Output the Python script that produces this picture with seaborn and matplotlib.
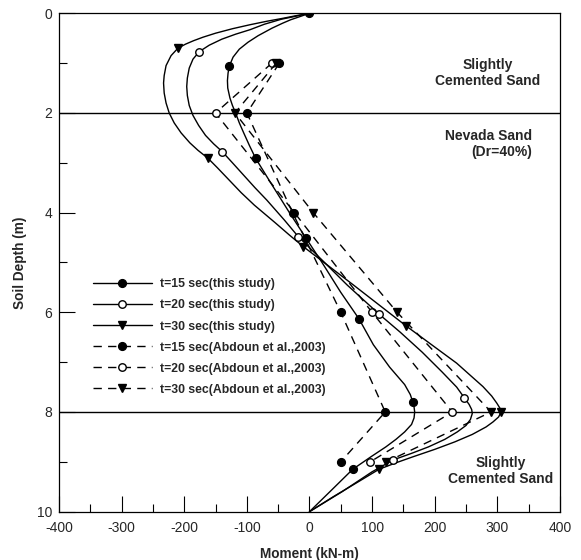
import matplotlib
matplotlib.use("Agg")
import matplotlib.pyplot as plt
from matplotlib.lines import Line2D
from matplotlib.ticker import MultipleLocator
from matplotlib import font_manager
import seaborn as sns

# ---- bending moment profiles (kN-m) vs. soil depth (m) ----
# this study: computed profiles, markers on selected depths
t15_depth = [0, 0.07, 0.13, 0.2, 0.3, 0.45, 0.58, 0.72, 0.88, 1.06, 1.2, 1.35, 1.5,
             1.7, 1.85, 2.0, 2.2, 2.4, 2.65, 2.91, 3.4, 4.0, 4.51, 5.0, 5.6, 6.13,
             6.65, 7.1, 7.45, 7.65, 7.8, 7.9, 8.0, 8.12, 8.25, 8.4, 8.55, 8.7, 8.9,
             9.15, 9.57, 10]
t15_moment = [0, -16, -30, -43, -60, -82, -98, -112, -122, -128, -130, -131, -130.5,
              -127, -123, -118, -112, -105, -96, -86, -62, -32, -5.6, 20, 50, 79,
              102, 128, 152, 161, 165, 167, 168, 167, 163, 152, 138, 122, 98,
              69, 35, 0]
t15_marks = [0, 9, 19, 22, 25, 30, 39]

t20_depth = [0, 0.06, 0.12, 0.22, 0.33, 0.42, 0.52, 0.64, 0.77, 0.92, 1.1, 1.3, 1.47,
             1.65, 1.85, 2.05, 2.25, 2.45, 2.62, 2.78, 3.0, 3.25, 3.5, 3.75, 4.15,
             4.48, 4.95, 5.45, 6.04, 6.4, 6.8, 7.2, 7.5, 7.71, 7.85, 7.95, 8.03,
             8.15, 8.27, 8.4, 8.55, 8.7, 8.83, 8.96, 9.2, 9.6, 10]
t20_moment = [0, -22, -45, -72, -95, -118, -140, -160, -176, -186, -192, -195, -196,
              -195, -192, -186, -177, -166, -153, -139, -123, -105, -87, -68, -40,
              -18, 20, 60, 111.5, 145, 180, 212, 235, 247, 255, 259, 260,
              257, 250, 236, 216, 190, 163, 134, 100, 52, 0]
t20_marks = [8, 19, 25, 28, 33, 43]

t30_depth = [0, 0.05, 0.1, 0.16, 0.23, 0.31, 0.40, 0.48, 0.55, 0.62, 0.70, 0.85, 1.05,
             1.25, 1.4, 1.6, 1.8, 2.0, 2.2, 2.4, 2.6, 2.75, 2.91, 3.1, 3.35, 3.6,
             3.85, 4.2, 4.45, 4.68, 5.45, 6.27, 6.65, 7.02, 7.3, 7.49, 7.68, 7.82,
             7.92, 8.0, 8.1, 8.2, 8.3, 8.45, 8.6, 8.75, 8.9, 9.02, 9.15, 9.4, 9.7, 10]
t30_moment = [0, -22, -42, -68, -95, -123, -150, -170, -185, -198, -210, -221, -229,
              -232, -233, -232, -229, -224, -216, -205, -191, -178, -162, -147, -128,
              -109, -88, -55, -32, -10, 70, 154, 195, 235, 260, 277, 291, 299,
              304, 306, 302, 293, 282, 260, 232, 200, 165, 138, 111, 78, 38, 0]
t30_marks = [10, 22, 29, 31, 39, 48]

# Abdoun et al. (2003): measured values
abd_depth = [1, 2, 4, 6, 8, 9]
abd15_moment = [-48, -100, -27, 50, 121, 50]
abd20_moment = [-60, -150, -24, 100, 228, 97]
abd30_moment = [-53, -119, 6, 140, 290, 123]

legend_labels = [
    "t=15 sec(this study)",
    "t=20 sec(this study)",
    "t=30 sec(this study)",
    "t=15 sec(Abdoun et al.,2003)",
    "t=20 sec(Abdoun et al.,2003)",
    "t=30 sec(Abdoun et al.,2003)",
]

sns.set_theme(style="white")
plt.rcParams["font.family"] = ["Liberation Sans", "DejaVu Sans"]
plt.rcParams["axes.edgecolor"] = "black"
plt.rcParams["axes.linewidth"] = 0.9
plt.rcParams["axes.unicode_minus"] = False


def pick_font(names):
    for n in names:
        try:
            font_manager.findfont(n, fallback_to_default=False)
            return n
        except Exception:
            continue
    return "DejaVu Sans"


legend_font = pick_font(["Liberation Sans Narrow", "Liberation Sans"])
legend_size = 9.5 if legend_font == "Liberation Sans Narrow" else 8.8

fig = plt.figure(figsize=(5.81, 5.6), dpi=100)
ax = fig.add_axes([0.1015, 0.0863, 0.8623, 0.8900])

dash = (0, (6, 4.5))
lw = 1.0

styles = {
    "o_fill": dict(marker="o", ms=5.6, mfc="black", mec="black", mew=1.0),
    "o_open": dict(marker="o", ms=5.4, mfc="white", mec="black", mew=1.0),
    "v_fill": dict(marker="v", ms=5.8, mfc="black", mec="black", mew=1.0),
}

# dashed reference profiles (t=20 first so the t=15 marker sits on top at 4 m)
sns.lineplot(x=abd20_moment, y=abd_depth, orient="y", sort=False, estimator=None,
             color="black", lw=lw, ls=dash, ax=ax, **styles["o_open"])
sns.lineplot(x=abd30_moment, y=abd_depth, orient="y", sort=False, estimator=None,
             color="black", lw=lw, ls=dash, ax=ax, **styles["v_fill"])
sns.lineplot(x=abd15_moment, y=abd_depth, orient="y", sort=False, estimator=None,
             color="black", lw=lw, ls=dash, ax=ax, **styles["o_fill"])

# computed profiles
sns.lineplot(x=t30_moment, y=t30_depth, orient="y", sort=False, estimator=None,
             color="black", lw=lw, markevery=t30_marks, ax=ax, **styles["v_fill"])
sns.lineplot(x=t20_moment, y=t20_depth, orient="y", sort=False, estimator=None,
             color="black", lw=lw, markevery=t20_marks, ax=ax, **styles["o_open"])
sns.lineplot(x=t15_moment, y=t15_depth, orient="y", sort=False, estimator=None,
             color="black", lw=lw, markevery=t15_marks, ax=ax, **styles["o_fill"])

# layer boundaries
for d in (2, 8):
    ax.axhline(d, color="black", lw=1.0, zorder=1)

ax.set_xlim(-400, 400)
ax.set_ylim(10, 0)
ax.xaxis.set_major_locator(MultipleLocator(100))
ax.xaxis.set_minor_locator(MultipleLocator(50))
ax.yaxis.set_major_locator(MultipleLocator(2))
ax.yaxis.set_minor_locator(MultipleLocator(1))
ax.tick_params(which="major", direction="in", length=11.5, width=0.8, color="black",
               top=False, right=False, bottom=True, left=True, labelsize=10)
ax.tick_params(which="minor", direction="in", length=6, width=0.8, color="black",
               top=False, right=False, bottom=True, left=True)
ax.tick_params(axis="x", which="major", pad=7)
ax.tick_params(axis="y", which="major", pad=5)
ax.grid(False)
for s in ax.spines.values():
    s.set_visible(True)
    s.set_color("black")

ax.set_xlabel("Moment (kN-m)", fontsize=9.8, fontweight="bold", labelpad=8)
ax.set_ylabel("Soil Depth (m)", fontsize=9.8, fontweight="bold", labelpad=7)

# soil layer annotations
ax.text(285, 1.2, "Slightly\nCemented Sand", ha="center", va="center",
        fontsize=10, fontweight="bold")
ax.text(355, 2.62, "Nevada Sand\n(Dr=40%)", ha="right", va="center",
        multialignment="right", fontsize=10, fontweight="bold")
ax.text(306, 9.19, "Slightly\nCemented Sand", ha="center", va="center",
        fontsize=10, fontweight="bold")

handles = [
    Line2D([], [], color="black", lw=lw, ls="-", **styles["o_fill"]),
    Line2D([], [], color="black", lw=lw, ls="-", **styles["o_open"]),
    Line2D([], [], color="black", lw=lw, ls="-", **styles["v_fill"]),
    Line2D([], [], color="black", lw=lw, ls=dash, **styles["o_fill"]),
    Line2D([], [], color="black", lw=lw, ls=dash, **styles["o_open"]),
    Line2D([], [], color="black", lw=lw, ls=dash, **styles["v_fill"]),
]
ax.legend(handles, legend_labels, loc="upper left", bbox_to_anchor=(0.067, 0.468),
          frameon=False, borderpad=0, borderaxespad=0, handlelength=4.9,
          handletextpad=0.65, labelspacing=0.74,
          prop=dict(family=legend_font, weight="bold", size=legend_size))

fig.savefig("out.png", dpi=100)
